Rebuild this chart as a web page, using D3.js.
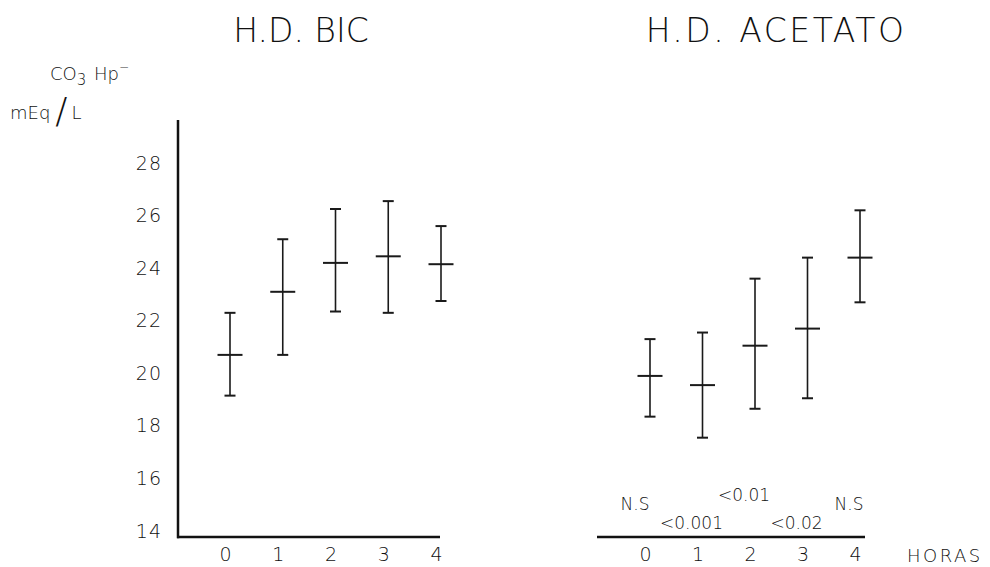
<!DOCTYPE html>
<html>
<head>
<meta charset="utf-8">
<script src="https://cdn.jsdelivr.net/npm/d3@7"></script>
<style>
  body { margin: 0; background: #fff; }
  svg text { font-family: "DejaVu Sans", sans-serif; font-weight: 200; fill: #111; }
</style>
</head>
<body>
<svg id="chart" width="990" height="567"></svg>
<script>
// data
var hours = [0, 1, 2, 3, 4];
var yTicks = [14, 16, 18, 20, 22, 24, 26, 28];

var bicMean = [20.7, 23.1, 24.2, 24.45, 24.15];
var bicLow  = [19.15, 20.7, 22.35, 22.3, 22.75];
var bicHigh = [22.3, 25.1, 26.25, 26.55, 25.6];

var aceMean = [19.9, 19.55, 21.05, 21.7, 24.4];
var aceLow  = [18.35, 17.55, 18.65, 19.05, 22.7];
var aceHigh = [21.3, 21.55, 23.6, 24.4, 26.2];

var pTop = [{text: "N.S", h: 0}, {text: "<0.01", h: 2}, {text: "N.S", h: 4}];
var pBottom = [{text: "<0.001", h: 1}, {text: "<0.02", h: 3}];

var svg = d3.select("#chart");

var yScale = d3.scaleLinear().domain([14, 28]).range([531, 163]);
var xLeft = d3.scaleLinear().domain([0, 4]).range([230, 441]);
var xRight = d3.scaleLinear().domain([0, 4]).range([650, 860]);

var baseY = 537;

var drawBars = function(target, xScale, mean, low, high)
{
    var g = target.append("g");
    var bars = g.selectAll("g")
        .data(hours)
        .enter()
        .append("g")
        .attr("stroke", "#1a1a1a")
        .attr("stroke-width", 1.6);

    bars.append("line")
        .attr("x1", function(h) { return xScale(h); })
        .attr("x2", function(h) { return xScale(h); })
        .attr("y1", function(h, i) { return yScale(high[i]); })
        .attr("y2", function(h, i) { return yScale(low[i]); });

    // caps
    bars.append("line")
        .attr("x1", function(h) { return xScale(h) - 5.5; })
        .attr("x2", function(h) { return xScale(h) + 5.5; })
        .attr("y1", function(h, i) { return yScale(high[i]); })
        .attr("y2", function(h, i) { return yScale(high[i]); })
        .attr("stroke-width", 2);
    bars.append("line")
        .attr("x1", function(h) { return xScale(h) - 5.5; })
        .attr("x2", function(h) { return xScale(h) + 5.5; })
        .attr("y1", function(h, i) { return yScale(low[i]); })
        .attr("y2", function(h, i) { return yScale(low[i]); })
        .attr("stroke-width", 2);

    // mean mark
    bars.append("line")
        .attr("x1", function(h) { return xScale(h) - 12.5; })
        .attr("x2", function(h) { return xScale(h) + 12.5; })
        .attr("y1", function(h, i) { return yScale(mean[i]); })
        .attr("y2", function(h, i) { return yScale(mean[i]); })
        .attr("stroke-width", 2);
}

var drawXAxis = function(xScale, x0, x1)
{
    var axis = d3.axisBottom(xScale)
        .tickValues(hours)
        .tickSize(0)
        .tickPadding(11)
        .tickFormat(d3.format("d"));

    var g = svg.append("g")
        .attr("transform", "translate(0," + baseY + ")")
        .call(axis);
    g.select(".domain").remove();
    g.selectAll("text")
        .attr("dx", -5)
        .style("font-size", "19px")
        .style("font-family", "DejaVu Sans, sans-serif")
        .style("font-weight", 200)
        .attr("fill", "#111");

    svg.append("line")
        .attr("x1", x0).attr("x2", x1)
        .attr("y1", baseY).attr("y2", baseY)
        .attr("stroke", "#111")
        .attr("stroke-width", 2.5);
}

// left y axis
var yAxis = d3.axisLeft(yScale)
    .tickValues(yTicks)
    .tickSize(0)
    .tickPadding(16);
var yg = svg.append("g")
    .attr("transform", "translate(178,0)")
    .call(yAxis);
yg.select(".domain").remove();
yg.selectAll("text")
    .style("font-size", "19px")
    .style("font-family", "DejaVu Sans, sans-serif")
    .style("font-weight", 200)
    .style("letter-spacing", "1px")
    .attr("fill", "#111");

svg.append("line")
    .attr("x1", 178).attr("x2", 178)
    .attr("y1", 120).attr("y2", baseY + 1.2)
    .attr("stroke", "#111")
    .attr("stroke-width", 2.5);

drawXAxis(xLeft, 177, xLeft(4) - 1);
drawXAxis(xRight, 597, xRight(4) + 5);

drawBars(svg, xLeft, bicMean, bicLow, bicHigh);
drawBars(svg, xRight, aceMean, aceLow, aceHigh);

// titles
svg.append("text")
    .text("H.D. BIC")
    .attr("x", 301).attr("y", 42)
    .attr("text-anchor", "middle")
    .style("font-size", "33px");

svg.append("text")
    .text("H.D. ACETATO")
    .attr("x", 776).attr("y", 42)
    .attr("text-anchor", "middle")
    .style("font-size", "33px")
    .style("letter-spacing", "2.5px");

// y label
var unit = svg.append("text")
    .attr("x", 50).attr("y", 80)
    .style("font-size", "18px");
unit.append("tspan").text("CO");
unit.append("tspan").text("3").attr("dy", 5).style("font-size", "15px");
unit.append("tspan").text(" H").attr("dy", -5).attr("dx", 2);
unit.append("tspan").text("p");
unit.append("tspan").text("\u2212").attr("dy", -9).style("font-size", "12px");

var unit2 = svg.append("text")
    .attr("x", 10).attr("y", 119)
    .style("font-size", "18px");
unit2.append("tspan").text("mEq");
unit2.append("tspan").text("/").style("font-size", "36px").attr("dy", 4).attr("dx", 5);
unit2.append("tspan").text("L").attr("dy", -4).attr("dx", 4);

// significance labels
svg.selectAll(".ptop")
    .data(pTop)
    .enter()
    .append("text")
    .attr("class", "ptop")
    .text(function(d) { return d.text; })
    .attr("x", function(d, i) { return xRight(d.h) - (i == 0 ? 15 : 11); })
    .attr("y", function(d, i) { return i == 1 ? 501 : 510; })
    .attr("text-anchor", "middle")
    .style("font-size", "17px");

svg.selectAll(".pbot")
    .data(pBottom)
    .enter()
    .append("text")
    .attr("class", "pbot")
    .text(function(d) { return d.text; })
    .attr("x", function(d) { return xRight(d.h) - 11; })
    .attr("y", 529)
    .attr("text-anchor", "middle")
    .style("font-size", "17px");

svg.append("text")
    .text("HORAS")
    .attr("x", 907).attr("y", 562)
    .style("font-size", "18px")
    .style("letter-spacing", "2.5px");
</script>
</body>
</html>
